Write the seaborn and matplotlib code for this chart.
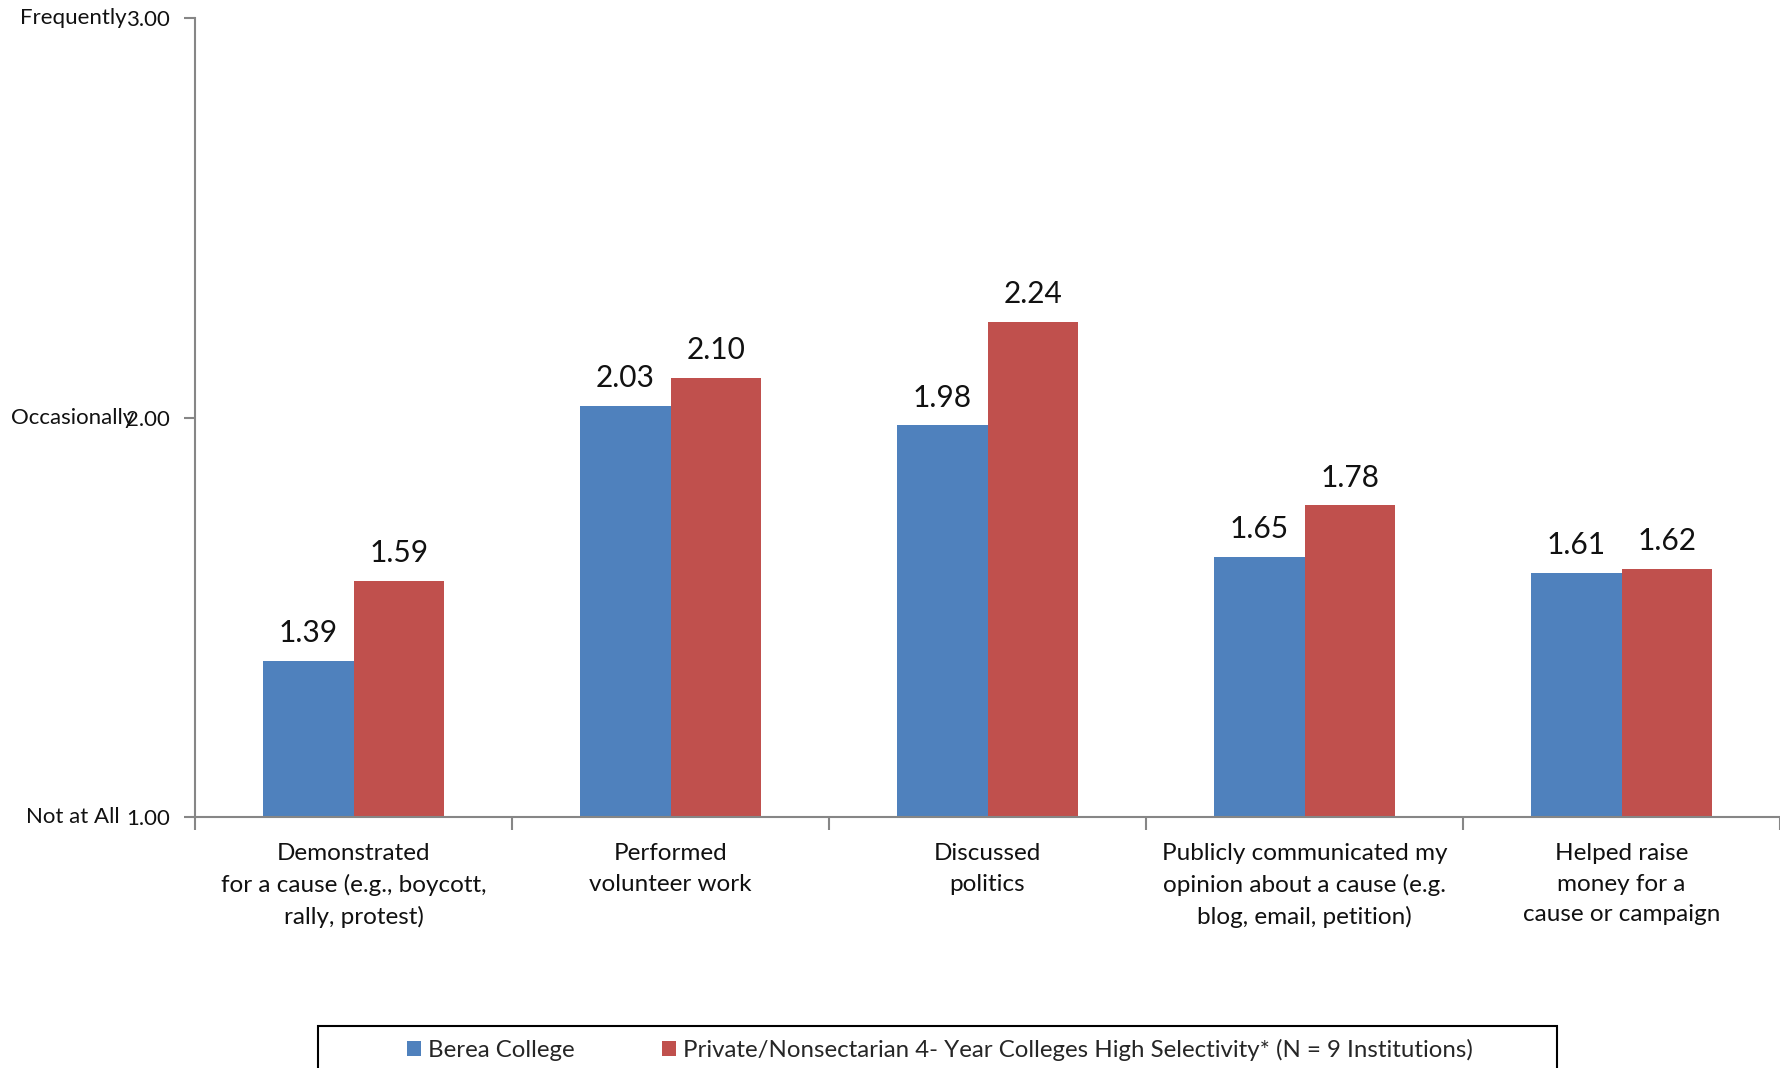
import matplotlib
matplotlib.use("Agg")
import matplotlib.pyplot as plt
import seaborn as sns
import pandas as pd
import numpy as np
from matplotlib.patches import Rectangle, Patch
from matplotlib.ticker import FixedLocator
import matplotlib.transforms as mtransforms

categories = [
    "Demonstrated\nfor a cause (e.g., boycott,\nrally, protest)",
    "Performed\nvolunteer work",
    "Discussed\npolitics",
    "Publicly communicated my\nopinion about a cause (e.g.\nblog, email, petition)",
    "Helped raise\nmoney for a\ncause or campaign",
]
series_names = ["Berea College",
                "Private/Nonsectarian 4- Year Colleges High Selectivity* (N = 9 Institutions)"]
berea = [1.39, 2.03, 1.98, 1.65, 1.61]
private = [1.59, 2.10, 2.24, 1.78, 1.62]
ytick_vals = [1.0, 2.0, 3.0]
ytick_words = ["Not at All", "Occasionally", "Frequently"]
colors = ["#4F81BD", "#C0504D"]

sns.set_theme(style="white")
plt.rcParams['font.family'] = ['Lato', 'DejaVu Sans']

df = pd.DataFrame({
    "category": categories * 2,
    "series": [series_names[0]] * len(categories) + [series_names[1]] * len(categories),
    "value": berea + private,
})

fig = plt.figure(figsize=(17.8, 10.68), dpi=100)
ax = fig.add_axes([195 / 1780, 1 - 817 / 1068, 1 - 195 / 1780, (817 - 18) / 1068])

sns.barplot(data=df, x="category", y="value", hue="series", order=categories,
            hue_order=series_names, palette=colors, width=0.57, saturation=1,
            linewidth=0, ax=ax, legend=False)

ax.set_ylim(1.0, 3.0)
ax.set_xlim(-0.5, len(categories) - 0.5)
ax.set_xlabel("")
ax.set_ylabel("")

for cont in ax.containers:
    ax.bar_label(cont, fmt="%.2f", padding=10, fontsize=21.5, color="#111111")

gray = "#868686"
for s in ["top", "right"]:
    ax.spines[s].set_visible(False)
for s in ["left", "bottom"]:
    ax.spines[s].set_color(gray)
    ax.spines[s].set_linewidth(1.5)

ax.set_yticks(ytick_vals)
ax.set_yticklabels([f"{v:.2f}" for v in ytick_vals], fontsize=16, color="#111111")
ax.tick_params(axis="y", which="major", left=True, length=8, width=1.5, color=gray, pad=10)

ax.set_xticks(range(len(categories)))
ax.set_xticklabels(categories, fontsize=17.5, color="#111111", linespacing=1.54)
ax.tick_params(axis="x", which="major", length=0, pad=19)
ax.xaxis.set_minor_locator(FixedLocator(np.arange(-0.5, len(categories), 1.0)))
ax.tick_params(axis="x", which="minor", bottom=True, length=9, width=1.5, color=gray)

trans = mtransforms.blended_transform_factory(fig.transFigure, ax.transData)
for v, w in zip(ytick_vals, ytick_words):
    ax.text(73 / 1780, v, w, transform=trans, ha="center", va="center",
            fontsize=16, color="#111111")

# legend box
fig.patches.append(Rectangle((318 / 1780, -0.05), (1557 - 318) / 1780,
                             0.05 + (1068 - 1026) / 1068,
                             transform=fig.transFigure, fill=False,
                             edgecolor="black", linewidth=1.5))
handles = [Patch(facecolor=c, edgecolor="none") for c in colors]
fig.legend(handles, series_names, loc="center", bbox_to_anchor=(940 / 1780, 1 - 1050 / 1068),
           ncol=2, frameon=False, fontsize=17.3, handlelength=0.6, handleheight=0.6,
           handletextpad=0.3, columnspacing=3.6)

fig.savefig("out.png", dpi=100)
